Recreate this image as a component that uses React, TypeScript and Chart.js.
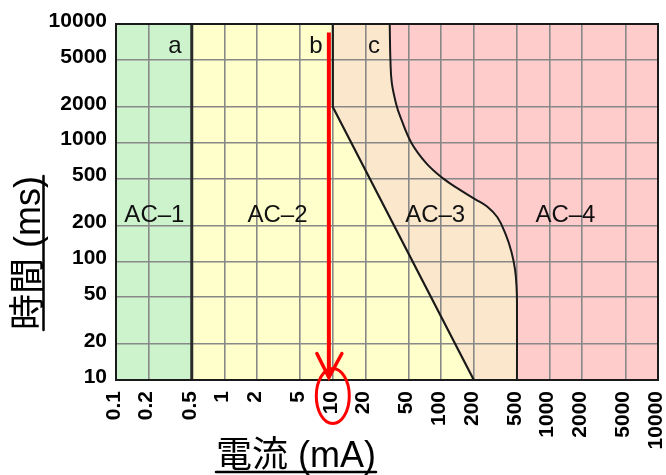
import React, { useEffect, useRef } from 'react';
import { Chart, registerables } from 'chart.js';

Chart.register(...registerables);

// ---- data ----
const X_TICKS = [0.1, 0.2, 0.5, 1, 2, 5, 10, 20, 50, 100, 200, 500, 1000, 2000, 5000, 10000];
const Y_TICKS = [10, 20, 50, 100, 200, 500, 1000, 2000, 5000, 10000];
const X_MIN = 0.1;
const X_MAX = 10000;
const Y_MIN = 10;
const Y_MAX = 10000;

// boundary a (vertical at 0.5 mA)
const LINE_A_X = [0.5, 0.5];
const LINE_A_Y = [10, 10000];
// boundary b
const CURVE_B_X = [10, 10, 200];
const CURVE_B_Y = [10000, 2000, 10];
// boundary c
const CURVE_C_X = [33.5, 34, 35, 38.5, 42, 53, 73, 104, 149, 205, 265, 330, 392, 445, 480, 496, 500, 500];
const CURVE_C_Y = [10000, 5000, 3200, 2100, 1650, 1000, 670, 500, 400, 335, 290, 235, 170, 120, 85, 60, 45, 10];

// zone labels
const ZONE_LABELS = ['a', 'b', 'c', 'AC–1', 'AC–2', 'AC–3', 'AC–4'];
const ZONE_LABEL_X = [0.35, 7, 24, 0.226, 3.09, 88, 1400];
const ZONE_LABEL_Y = [5700, 5700, 5700, 214, 214, 214, 214];

// red arrow / highlight
const ARROW_X = 9.2;
const ARROW_Y_TOP = 8500;
const ARROW_Y_TIP = 10.5;
const HIGHLIGHT_TICK = 10;

const X_TITLE = '電流 (mA)';
const Y_TITLE = '時間 (ms)';

const FONT_FAMILY = '"Liberation Sans", Arial, "Noto Sans CJK JP", sans-serif';

const pts = (xs: number[], ys: number[]) => xs.map((x, i) => ({ x, y: ys[i] }));

const overlayPlugin = {
  id: 'overlay',
  afterDatasetsDraw(chart: any) {
    const { ctx, chartArea } = chart;
    const xs = chart.scales.x;
    const ys = chart.scales.y;
    ctx.save();
    // zone labels
    ctx.fillStyle = '#111';
    ctx.textAlign = 'center';
    ctx.textBaseline = 'alphabetic';
    ZONE_LABELS.forEach((t, i) => {
      ctx.font = `24px ${FONT_FAMILY}`;
      ctx.fillText(t, xs.getPixelForValue(ZONE_LABEL_X[i]), ys.getPixelForValue(ZONE_LABEL_Y[i]));
    });
    // frame
    ctx.strokeStyle = '#1a1a1a';
    ctx.lineWidth = 2;
    ctx.strokeRect(chartArea.left, chartArea.top, chartArea.right - chartArea.left, chartArea.bottom - chartArea.top);
    ctx.restore();
  },
  afterDraw(chart: any) {
    const { ctx } = chart;
    const xs = chart.scales.x;
    const ys = chart.scales.y;
    ctx.save();
    // red arrow
    const ax = xs.getPixelForValue(ARROW_X);
    const yTop = ys.getPixelForValue(ARROW_Y_TOP);
    const yTip = ys.getPixelForValue(ARROW_Y_TIP);
    ctx.strokeStyle = '#ff0000';
    ctx.lineWidth = 4;
    ctx.beginPath();
    ctx.moveTo(ax, yTop);
    ctx.lineTo(ax, yTip);
    ctx.stroke();
    ctx.lineWidth = 3.5;
    ctx.lineCap = 'round';
    ctx.beginPath();
    ctx.moveTo(ax - 12, yTip - 24);
    ctx.lineTo(ax, yTip);
    ctx.lineTo(ax + 13, yTip - 24);
    ctx.stroke();
    // ellipse around tick label
    const cx = xs.getPixelForValue(HIGHLIGHT_TICK);
    const cy = xs.top + 16;
    ctx.lineWidth = 3;
    ctx.beginPath();
    ctx.ellipse(cx, cy, 16.5, 27.5, 0, 0, Math.PI * 2);
    ctx.stroke();

    // axis titles
    ctx.fillStyle = '#000';
    ctx.strokeStyle = '#000';
    ctx.font = `36px ${FONT_FAMILY}`;
    ctx.textBaseline = 'alphabetic';
    // x title
    ctx.textAlign = 'left';
    const xw = ctx.measureText(X_TITLE).width;
    const xl = 216;
    ctx.fillText(X_TITLE, xl, 467);
    ctx.lineWidth = 2.5;
    ctx.beginPath();
    ctx.moveTo(xl, 472);
    ctx.lineTo(xl + xw, 472);
    ctx.stroke();
    // y title
    const yw = ctx.measureText(Y_TITLE).width;
    const yb = 330;
    ctx.save();
    ctx.translate(40, yb);
    ctx.rotate(-Math.PI / 2);
    ctx.fillText(Y_TITLE, 0, 0);
    ctx.restore();
    ctx.beginPath();
    ctx.moveTo(43.5, yb);
    ctx.lineTo(43.5, yb - yw);
    ctx.stroke();
    ctx.restore();
  },
};

export default function App() {
  const ref = useRef<HTMLCanvasElement | null>(null);
  useEffect(() => {
    const canvas = ref.current;
    if (!canvas) return;
    const tickFont = { family: FONT_FAMILY, size: 21, weight: 'bold' as const };
    const lastCX = CURVE_C_X[CURVE_C_X.length - 1];
    const lastCY = CURVE_C_Y[CURVE_C_Y.length - 1];
    const chart = new Chart(canvas, {
      type: 'line',
      data: {
        datasets: [
          // fills (index 0 drawn on top)
          { data: pts([...CURVE_C_X, lastCX, X_MAX], [...CURVE_C_Y, lastCY, Y_MIN]), fill: 'end', backgroundColor: '#ffcccc', borderWidth: 0, pointRadius: 0, tension: 0.4 },
          { data: pts([...CURVE_B_X, X_MAX], [...CURVE_B_Y, Y_MIN]), fill: 'end', backgroundColor: '#fbe8cc', borderWidth: 0, pointRadius: 0 },
          { data: pts([LINE_A_X[0], X_MAX], [Y_MIN, Y_MIN]), fill: 'end', backgroundColor: '#ffffcc', borderWidth: 0, pointRadius: 0 },
          { data: pts([X_MIN, LINE_A_X[0]], [Y_MIN, Y_MIN]), fill: 'end', backgroundColor: '#ccf3cc', borderWidth: 0, pointRadius: 0 },
          // boundary lines
          { data: pts(LINE_A_X, LINE_A_Y), fill: false, borderColor: '#2a2a2a', borderWidth: 3, pointRadius: 0 },
          { data: pts(CURVE_B_X, CURVE_B_Y), fill: false, borderColor: '#1a1a1a', borderWidth: 2.2, pointRadius: 0 },
          { data: pts(CURVE_C_X, CURVE_C_Y), fill: false, borderColor: '#1a1a1a', borderWidth: 2, pointRadius: 0, tension: 0.4 },
        ],
      },
      options: {
        responsive: false,
        animation: false,
        events: [],
        layout: { padding: { top: 24, right: 8, left: 0, bottom: 0 } },
        plugins: {
          legend: { display: false },
          tooltip: { enabled: false },
          filler: { drawTime: 'beforeDraw' } as any,
        },
        scales: {
          x: {
            type: 'logarithmic',
            min: X_MIN,
            max: X_MAX,
            afterBuildTicks: (s: any) => { s.ticks = X_TICKS.map((v) => ({ value: v })); },
            afterFit: (s: any) => { s.height = 95; s.paddingLeft = 0; s.paddingRight = 0; },
            ticks: {
              autoSkip: false,
              minRotation: 90,
              maxRotation: 90,
              padding: 11,
              labelOffset: -2,
              color: '#000',
              font: tickFont,
              callback: (v: any) => String(v),
            },
            grid: { color: '#888', lineWidth: 1.6, drawTicks: false },
            border: { display: false },
          },
          y: {
            type: 'logarithmic',
            min: Y_MIN,
            max: Y_MAX,
            afterBuildTicks: (s: any) => { s.ticks = Y_TICKS.map((v) => ({ value: v })); },
            afterFit: (s: any) => { s.width = 116; s.paddingTop = 0; s.paddingBottom = 0; },
            ticks: {
              padding: 9,
              labelOffset: -3,
              color: '#000',
              font: tickFont,
              callback: (v: any) => String(v),
            },
            grid: { color: '#888', lineWidth: 1.6, drawTicks: false },
            border: { display: false },
          },
        },
      },
      plugins: [overlayPlugin],
    });
    return () => chart.destroy();
  }, []);
  return (
    <div style={{ position: 'absolute', left: 0, top: 0, width: 666, height: 475, background: '#fff' }}>
      <canvas ref={ref} width={666} height={475} style={{ width: 666, height: 475, display: 'block' }} />
    </div>
  );
}
